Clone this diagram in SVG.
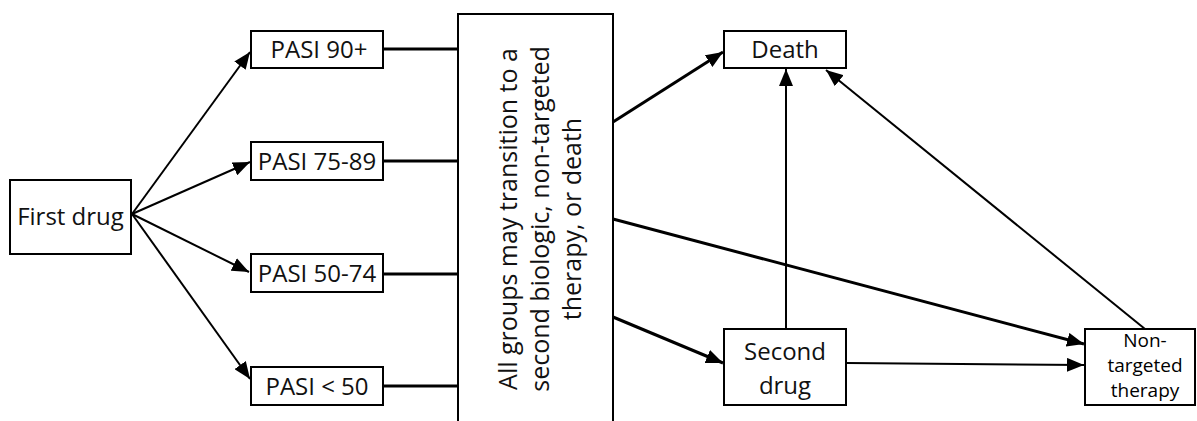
<svg xmlns="http://www.w3.org/2000/svg" width="1197" height="421" viewBox="0 0 1197 421">
<style>
.box{fill:#fff;stroke:#000;stroke-width:2}
.t{font-family:"Open Sans","Noto Sans",sans-serif;font-size:24px;fill:#111;text-anchor:middle}
.r{font-size:25px}
.s{font-size:19px;fill:#000}
.thin{stroke:#000;stroke-width:2;fill:none}
.thick{stroke:#000;stroke-width:3;fill:none}
</style>
<defs>
<marker id="ah" markerUnits="userSpaceOnUse" markerWidth="18" markerHeight="14" refX="17" refY="7" orient="auto">
<path d="M0,0 L17,7 L0,14 Z" fill="#000"/>
</marker>
</defs>
<g id="connectors">
<line class="thin" x1="132" y1="214" x2="250" y2="52" marker-end="url(#ah)"/>
<line class="thin" x1="132" y1="214" x2="250" y2="162" marker-end="url(#ah)"/>
<line class="thin" x1="132" y1="214" x2="249" y2="272" marker-end="url(#ah)"/>
<line class="thin" x1="132" y1="214" x2="250" y2="379" marker-end="url(#ah)"/>
<line class="thick" x1="384" y1="49" x2="458" y2="49"/>
<line class="thick" x1="384" y1="161" x2="458" y2="161"/>
<line class="thick" x1="384" y1="274" x2="458" y2="274"/>
<line class="thick" x1="384" y1="386" x2="458" y2="386"/>
<line class="thick" x1="613" y1="122" x2="723" y2="52" marker-end="url(#ah)"/>
<line class="thick" x1="613" y1="219" x2="1084" y2="344" marker-end="url(#ah)"/>
<line class="thick" x1="613" y1="317" x2="723" y2="363" marker-end="url(#ah)"/>
<line class="thin" x1="786" y1="328" x2="786" y2="69" marker-end="url(#ah)"/>
<line class="thin" x1="847" y1="363" x2="1084" y2="365" marker-end="url(#ah)"/>
<line class="thin" x1="1145" y1="329" x2="826" y2="70" marker-end="url(#ah)"/>
</g>
<g id="first-drug">
<rect class="box" x="10" y="180" width="121" height="74"/>
<text class="t" x="70.5" y="225">First drug</text>
</g>
<g id="pasi-90">
<rect class="box" x="251" y="31" width="132" height="37"/>
<text class="t" x="319" y="58">PASI 90+</text>
</g>
<g id="pasi-75-89">
<rect class="box" x="251" y="142" width="132" height="38"/>
<text class="t" x="317" y="170">PASI 75-89</text>
</g>
<g id="pasi-50-74">
<rect class="box" x="251" y="254" width="132" height="38"/>
<text class="t" x="317" y="282">PASI 50-74</text>
</g>
<g id="pasi-lt-50">
<rect class="box" x="251" y="367" width="132" height="38"/>
<text class="t" x="317" y="395">PASI &lt; 50</text>
</g>
<g id="transition">
<rect class="box" x="458" y="14" width="155" height="420"/>
<text class="t r" transform="translate(545,219) rotate(-90)"><tspan x="0" y="-28">All groups may transition to a</tspan><tspan x="0" y="4">second biologic, non-targeted</tspan><tspan x="0" y="36">therapy, or death</tspan></text>
</g>
<g id="death">
<rect class="box" x="724" y="31" width="122" height="37"/>
<text class="t" x="785" y="58">Death</text>
</g>
<g id="second-drug">
<rect class="box" x="724" y="329" width="122" height="76"/>
<text class="t" x="785" y="360">Second</text>
<text class="t" x="785" y="394">drug</text>
</g>
<g id="non-targeted">
<rect class="box" x="1085" y="329" width="110" height="76"/>
<text class="t s" x="1145" y="347">Non-</text>
<text class="t s" x="1145" y="372">targeted</text>
<text class="t s" x="1145" y="397">therapy</text>
</g>
</svg>
